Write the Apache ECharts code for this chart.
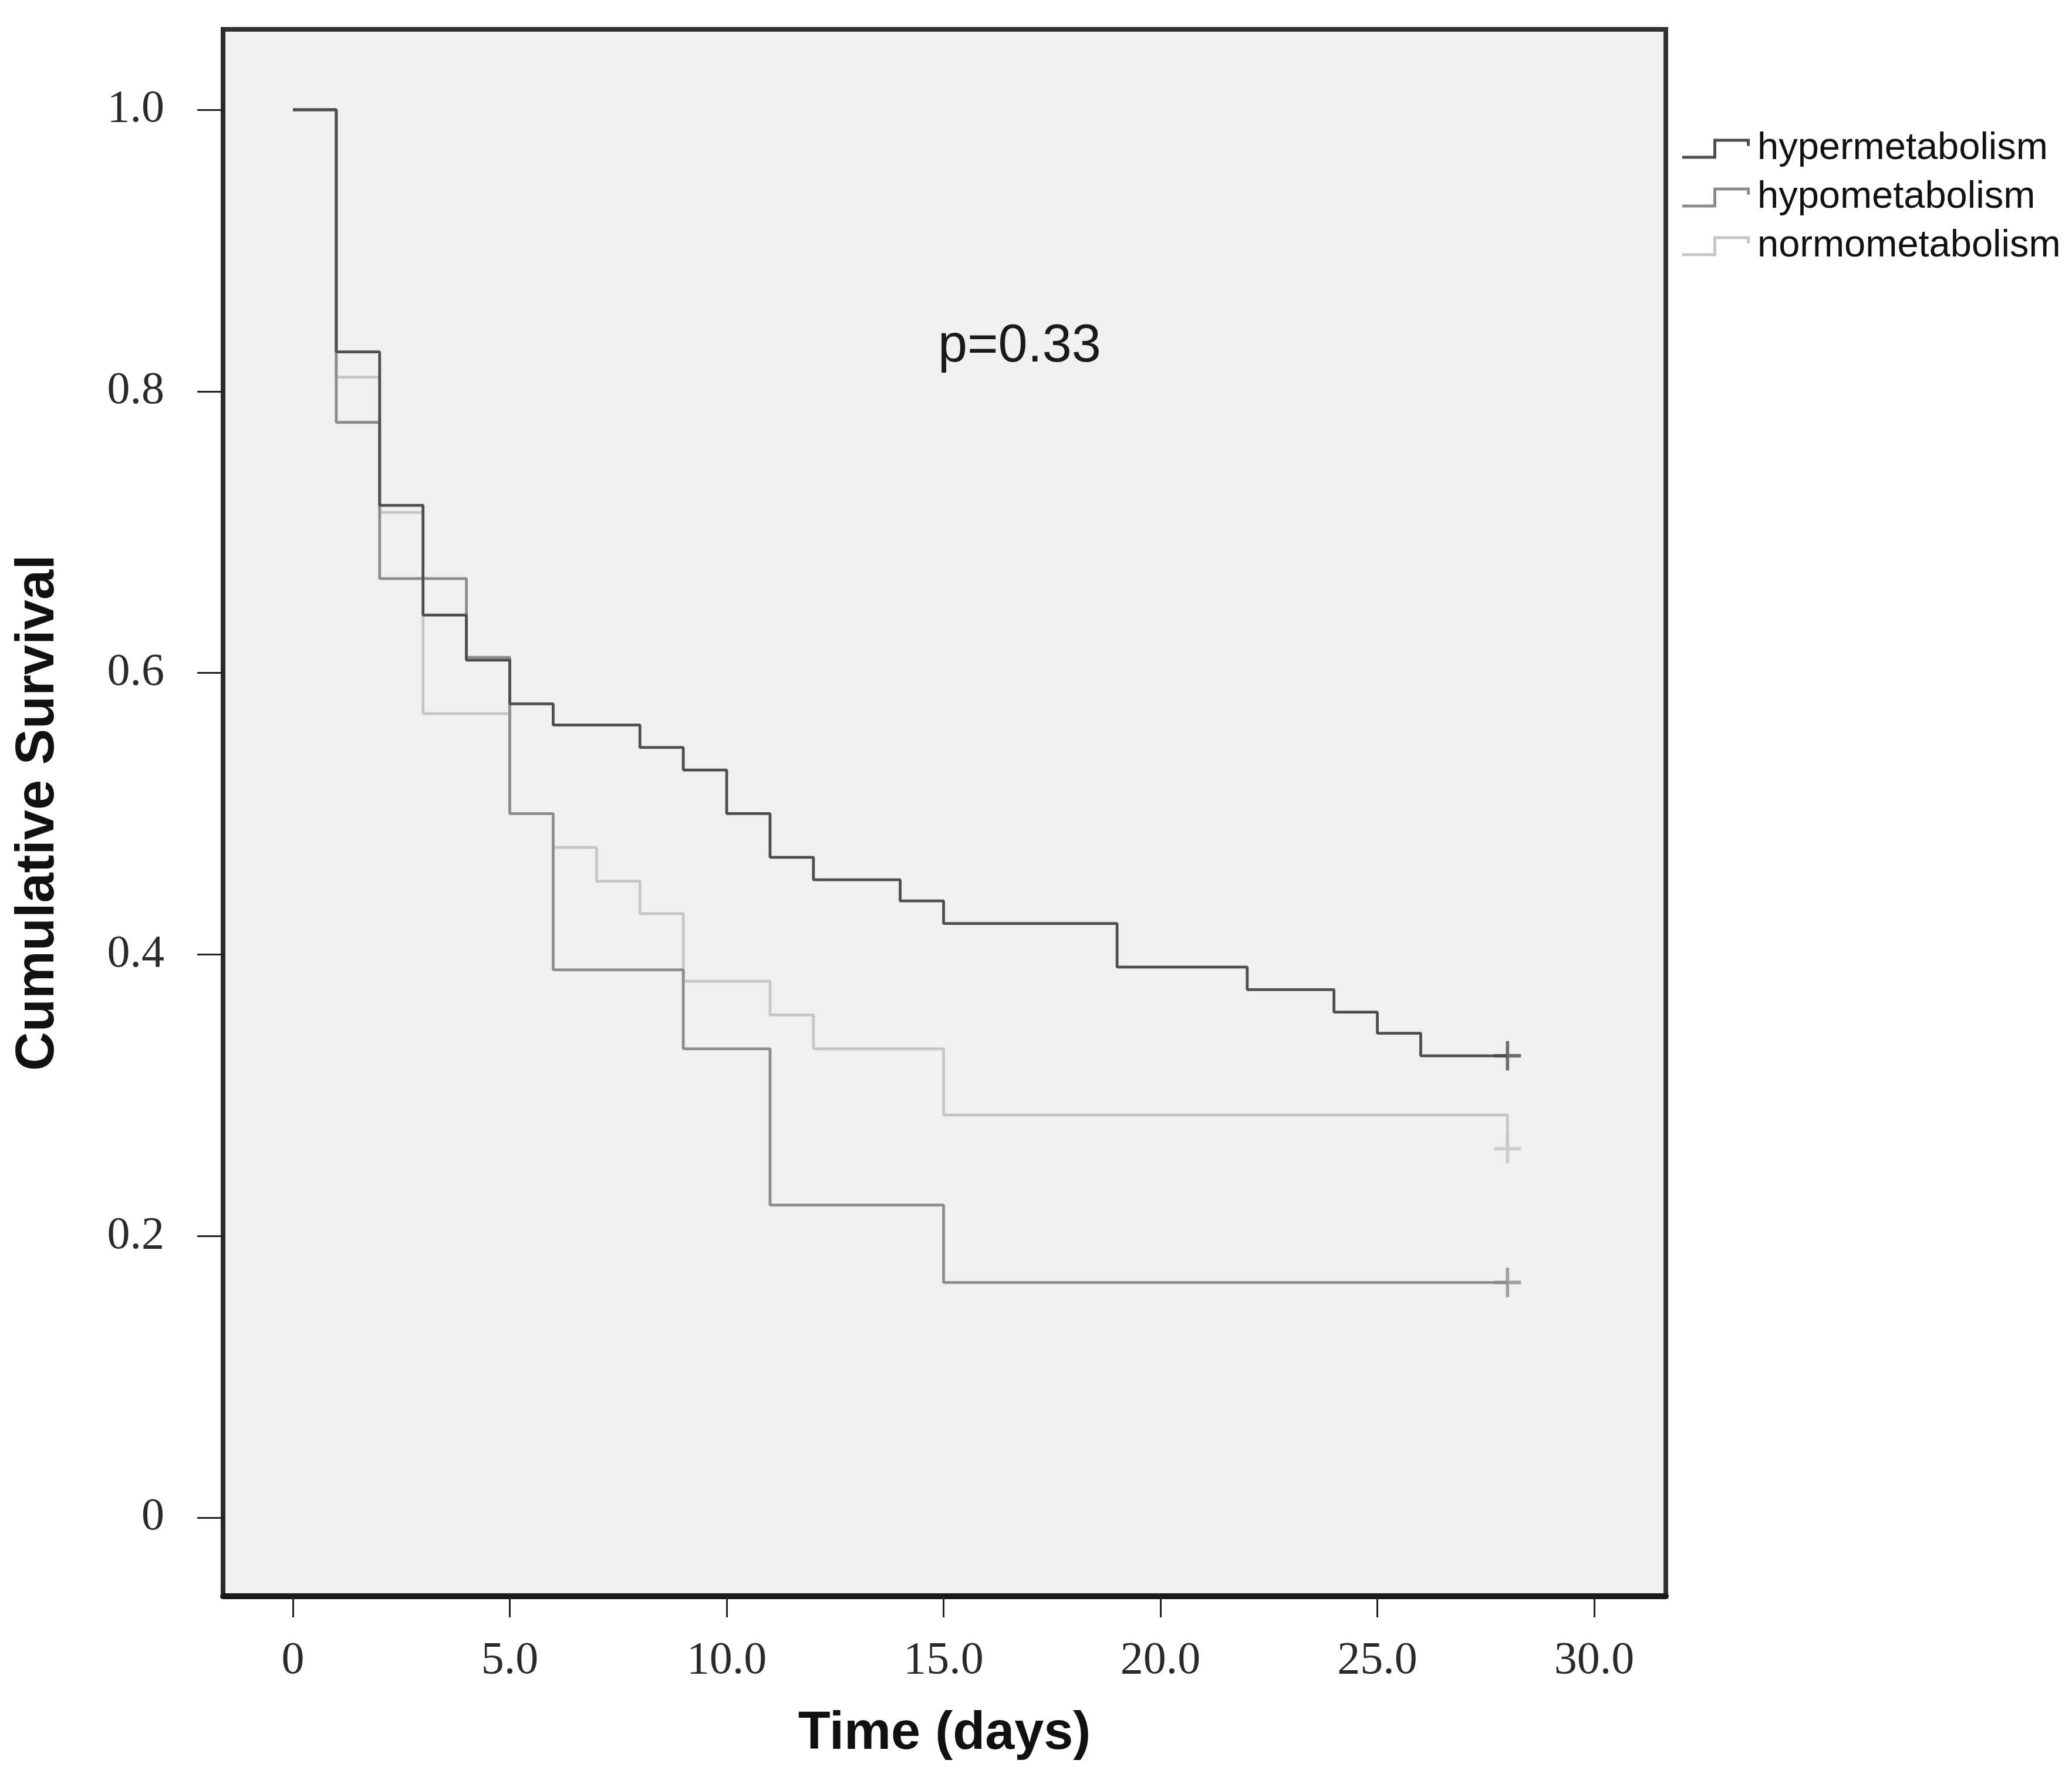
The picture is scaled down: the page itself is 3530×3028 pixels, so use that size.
<!DOCTYPE html>
<html>
<head>
<meta charset="utf-8">
<script src="https://cdn.jsdelivr.net/npm/echarts@6/dist/echarts.min.js"></script>
<style>
  html, body { margin: 0; padding: 0; background: #ffffff; }
  #chart { width: 3530px; height: 3028px; }
</style>
</head>
<body>
<div id="chart"></div>
<script>
// ---- data ----
const seriesNames = ['hypermetabolism', 'hypometabolism', 'normometabolism'];

const hyperTimes    = [0, 1, 2, 3, 4, 5, 6, 8, 9, 10, 11, 12, 14, 15, 19, 22, 24, 25, 26, 28];
const hyperSurvival = [1.0, 0.828, 0.719, 0.641, 0.609, 0.578, 0.563, 0.547, 0.531, 0.5, 0.469, 0.453, 0.438, 0.422, 0.391, 0.375, 0.359, 0.344, 0.328, 0.328];

const hypoTimes    = [0, 1, 2, 4, 5, 6, 9, 11, 15, 28];
const hypoSurvival = [1.0, 0.778, 0.667, 0.611, 0.5, 0.389, 0.333, 0.222, 0.167, 0.167];

const normoTimes    = [0, 1, 2, 3, 5, 6, 7, 8, 9, 11, 12, 15, 28];
const normoSurvival = [1.0, 0.81, 0.714, 0.571, 0.5, 0.476, 0.452, 0.429, 0.381, 0.357, 0.333, 0.286, 0.262];

// censored observations (+ marks)
const hyperCensorTimes = [28];  const hyperCensorSurvival = [0.328];
const hypoCensorTimes  = [28];  const hypoCensorSurvival  = [0.167];
const normoCensorTimes = [28];  const normoCensorSurvival = [0.262];

const xTickValues = [0, 5, 10, 15, 20, 25, 30];
const xTickLabels = ['0', '5.0', '10.0', '15.0', '20.0', '25.0', '30.0'];
const yTickValues = [0, 0.2, 0.4, 0.6, 0.8, 1.0];
const yTickLabels = ['0', '0.2', '0.4', '0.6', '0.8', '1.0'];

const pValueText = 'p=0.33';

// ---- styling ----
const colors = { hypermetabolism: '#4e4e4e', hypometabolism: '#8c8c8c', normometabolism: '#c6c6c6' };
const plusPath = 'path://M21,0 H27 V22 H48 V28 H27 V50 H21 V28 H0 V22 H21 Z';
const stepIcon = 'path://M0,29 L53,29 L53,0 L115,0 L115,12 L110,12 L110,5 L58,5 L58,34 L0,34 Z';

function zip(xs, ys) { return xs.map((x, i) => [x, ys[i]]); }
function labelFor(values, labels) {
  return function (v) {
    for (let i = 0; i < values.length; i++) {
      if (Math.abs(values[i] - v) < 1e-6) return labels[i];
    }
    return '';
  };
}

function lineSeries(name, xs, ys) {
  return {
    name: name, type: 'line', step: 'end', data: zip(xs, ys),
    showSymbol: false, symbol: 'none',
    lineStyle: { color: colors[name], width: 4.8 },
    itemStyle: { color: colors[name] },
    z: 3
  };
}
function censorSeries(name, xs, ys) {
  return {
    name: name, type: 'scatter', data: zip(xs, ys),
    symbol: plusPath, symbolSize: [46, 50],
    itemStyle: { color: colors[name] },
    z: 4
  };
}

const chart = echarts.init(document.getElementById('chart'), null, { renderer: 'canvas' });
chart.setOption({
  animation: false,
  backgroundColor: '#ffffff',
  grid: {
    left: 380, top: 50, width: 2458, height: 2670,
    show: true, backgroundColor: '#f0f0f0', borderColor: '#333333', borderWidth: 8,
    containLabel: false
  },
  legend: {
    orient: 'vertical', left: 2861, top: 216,
    itemWidth: 115, itemHeight: 34, itemGap: 18,
    icon: stepIcon,
    data: seriesNames,
    textStyle: { fontFamily: 'Liberation Sans', fontSize: 65, color: '#111', padding: [0, 0, 0, 8] }
  },
  xAxis: {
    type: 'value', min: -1.61, max: 31.65,
    axisLine: { show: true, onZero: false, lineStyle: { color: '#1a1a1a', width: 10 } },
    axisTick: { show: true, inside: false, customValues: xTickValues, length: 36, lineStyle: { color: '#222', width: 3 } },
    axisLabel: {
      customValues: xTickValues, formatter: labelFor(xTickValues, xTickLabels),
      fontFamily: 'Liberation Serif', fontSize: 78, color: '#2a2a2a', margin: 72
    },
    splitLine: { show: false },
    name: 'Time (days)', nameLocation: 'middle', nameGap: 190,
    nameTextStyle: { fontFamily: 'Liberation Sans', fontWeight: 'bold', fontSize: 90, color: '#111' }
  },
  yAxis: {
    type: 'value', min: -0.0559, max: 1.0571,
    axisLine: { show: true, onZero: false, lineStyle: { color: '#2a2a2a', width: 8 } },
    axisTick: { show: true, inside: false, customValues: yTickValues, length: 44, lineStyle: { color: '#222', width: 3 } },
    axisLabel: {
      customValues: yTickValues, formatter: labelFor(yTickValues, yTickLabels),
      fontFamily: 'Liberation Serif', fontSize: 78, color: '#2a2a2a', margin: 100
    },
    splitLine: { show: false },
    name: 'Cumulative Survival', nameLocation: 'middle', nameRotate: 90, nameGap: 268,
    nameTextStyle: { fontFamily: 'Liberation Sans', fontWeight: 'bold', fontSize: 92, color: '#111' }
  },
  graphic: [{
    type: 'text', left: 1598, top: 546, z: 10,
    style: { text: pValueText, fontFamily: 'Liberation Sans', fontSize: 90, fill: '#1a1a1a' }
  }],
  series: [
    lineSeries('normometabolism', normoTimes, normoSurvival),
    lineSeries('hypometabolism', hypoTimes, hypoSurvival),
    lineSeries('hypermetabolism', hyperTimes, hyperSurvival),
    censorSeries('normometabolism', normoCensorTimes, normoCensorSurvival),
    censorSeries('hypometabolism', hypoCensorTimes, hypoCensorSurvival),
    censorSeries('hypermetabolism', hyperCensorTimes, hyperCensorSurvival)
  ]
});
</script>
</body>
</html>
